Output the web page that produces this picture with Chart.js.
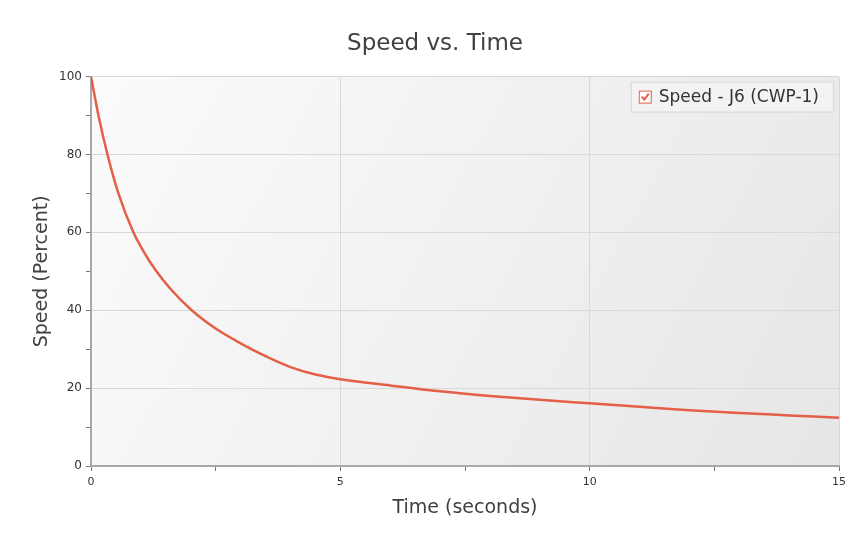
<!DOCTYPE html>
<html>
<head>
<meta charset="utf-8">
<script src="https://cdn.jsdelivr.net/npm/chart.js@4"></script>
<style>
  html, body { margin: 0; padding: 0; background: #fff; }
  #wrap { width: 860px; height: 541px; }
</style>
</head>
<body>
<div id="wrap"><canvas id="myChart"></canvas></div>
<script>
// data
var timeSec = [0, 0.15, 0.33, 0.55, 0.85, 1.05, 1.29, 1.6, 2.02, 2.5, 3.0, 3.5, 4.0, 4.5, 5.0, 6.0, 7.0, 8.0, 9.0, 10.0, 11.0, 12.0, 13.0, 14.0, 15.0];
var speedPct = [100, 90, 80, 70, 60, 55.2, 50.4, 45.4, 40, 35.3, 31.5, 28.2, 25.4, 23.5, 22.3, 20.7, 19.2, 18.0, 17.0, 16.1, 15.2, 14.3, 13.6, 13.0, 12.4];
var seriesLabel = 'Speed - J6 (CWP-1)';
var xTicks = [0, 5, 10, 15];
var yTicks = [0, 20, 40, 60, 80, 100];

var FONT = 'DejaVu Sans';
var LINE = '#e35f48';

var points = timeSec.map(function(t, i) { return {x: t, y: speedPct[i]}; });

// gradient behind the plot area
var plotBg = {
    id: 'plotBg',
    beforeDraw: function(chart) {
        var a = chart.chartArea, c = chart.ctx;
        var g = c.createLinearGradient(a.left, a.top, a.right, a.bottom);
        g.addColorStop(0, '#fbfbfb');
        g.addColorStop(1, '#e6e6e6');
        c.save();
        c.fillStyle = g;
        c.fillRect(a.left, a.top, a.right - a.left, a.bottom - a.top);
        c.restore();
    }
};

// boxed legend inside the plot
var boxLegend = {
    id: 'boxLegend',
    afterDraw: function(chart) {
        var c = chart.ctx, a = chart.chartArea;
        var label = chart.data.datasets[0].label;
        c.save();
        c.font = '17px ' + FONT;
        var tw = c.measureText(label).width;
        var w = tw + 42, h = 30;
        var x = a.right - 6 - w, y = a.top + 5;
        c.fillStyle = '#f3f3f3';
        c.fillRect(x, y, w, h);
        c.strokeStyle = '#d6d6d6';
        c.lineWidth = 1;
        c.strokeRect(x + 0.5, y + 0.5, w, h);
        // checkbox
        var bx = x + 8, by = y + 9;
        c.fillStyle = '#fff';
        c.fillRect(bx, by, 12, 12);
        c.strokeStyle = LINE;
        c.strokeRect(bx + 0.5, by + 0.5, 12, 12);
        c.beginPath();
        c.moveTo(bx + 3, by + 6);
        c.lineTo(bx + 5.5, by + 9);
        c.lineTo(bx + 10, by + 3);
        c.lineWidth = 2;
        c.stroke();
        c.fillStyle = '#333';
        c.textBaseline = 'middle';
        c.fillText(label, bx + 20, y + h / 2 + 1);
        c.restore();
    }
};

var ctx = document.getElementById('myChart');
new Chart(ctx, {
    type: 'scatter',
    data: {
        datasets: [{
            label: seriesLabel,
            data: points,
            showLine: true,
            borderColor: LINE,
            backgroundColor: LINE,
            borderWidth: 2.5,
            pointRadius: 0,
            cubicInterpolationMode: 'monotone'
        }]
    },
    options: {
        responsive: true,
        maintainAspectRatio: false,
        animation: false,
        layout: { padding: { left: 31, right: 21, top: 0, bottom: 18 } },
        plugins: {
            legend: { display: false },
            tooltip: { enabled: false },
            title: {
                display: true,
                text: 'Speed vs. Time',
                color: '#404040',
                font: { family: FONT, size: 23, weight: 'normal' },
                padding: { top: 30, bottom: 19 }
            }
        },
        scales: {
            x: {
                type: 'linear',
                min: 0, max: 15,
                afterBuildTicks: function(scale) {
                    var t = [];
                    for (var v = 0; v <= 15; v += 2.5) t.push({value: v});
                    scale.ticks = t;
                },
                afterFit: function(scale) { scale.height = 57; },
                ticks: {
                    color: '#333',
                    font: { family: FONT, size: 11 },
                    padding: 5,
                    maxRotation: 0,
                    callback: function(v) { return xTicks.indexOf(v) >= 0 ? v : ''; }
                },
                grid: {
                    color: function(c) { return (c.tick && xTicks.indexOf(c.tick.value) >= 0) ? '#d9d9d9' : 'rgba(0,0,0,0)'; },
                    tickColor: '#777',
                    tickLength: 5,
                    lineWidth: 1
                },
                border: { color: '#a8a8a8', width: 2 },
                title: {
                    display: true,
                    text: 'Time (seconds)',
                    color: '#404040',
                    font: { family: FONT, size: 19 },
                    padding: { top: 4, bottom: 4 }
                }
            },
            y: {
                min: 0, max: 100,
                afterBuildTicks: function(scale) {
                    var t = [];
                    for (var v = 0; v <= 100; v += 10) t.push({value: v});
                    scale.ticks = t;
                },
                afterFit: function(scale) { scale.width = 60; },
                ticks: {
                    color: '#333',
                    font: { family: FONT, size: 12 },
                    padding: 4,
                    callback: function(v) { return yTicks.indexOf(v) >= 0 ? v : ''; }
                },
                grid: {
                    color: function(c) { return (c.tick && yTicks.indexOf(c.tick.value) >= 0) ? '#d9d9d9' : 'rgba(0,0,0,0)'; },
                    tickColor: '#777',
                    tickLength: 5,
                    lineWidth: 1
                },
                border: { color: '#a8a8a8', width: 2 },
                title: {
                    display: true,
                    text: 'Speed (Percent)',
                    color: '#404040',
                    font: { family: FONT, size: 19 },
                    padding: { top: 0, bottom: 0 }
                }
            }
        }
    },
    plugins: [plotBg, boxLegend]
});
</script>
</body>
</html>
